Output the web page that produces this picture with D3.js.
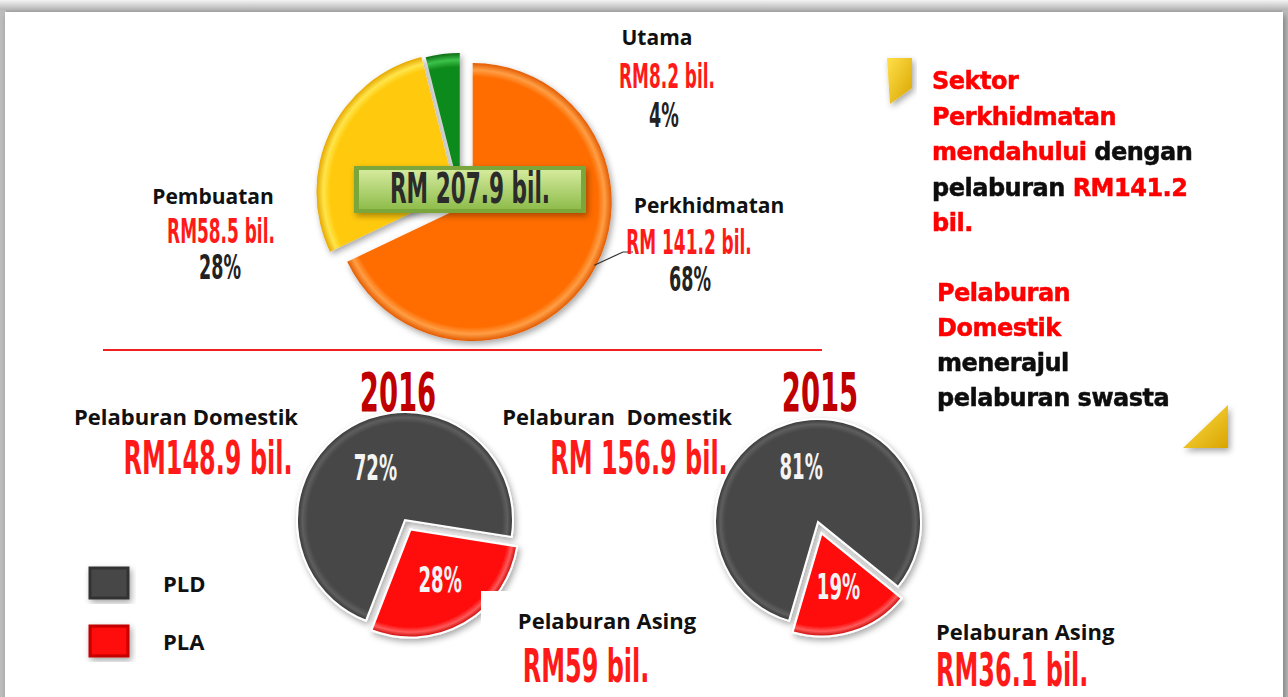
<!DOCTYPE html>
<html>
<head>
<meta charset="utf-8">
<script src="https://cdn.jsdelivr.net/npm/d3@7"></script>
<style>
  body { margin: 0; background: #fff; }
  svg { display: block; }
</style>
</head>
<body>
<div class="chart"></div>
<script>
var svgWidth = 1288;
var svgHeight = 697;

// Sektor (RM bil.)
var sectors = ["Perkhidmatan", "Pembuatan", "Utama"];
var sectorValues = [141.2, 58.5, 8.2];
var sectorPct = ["68%", "28%", "4%"];
var sectorAmt = ["RM 141.2 bil.", "RM58.5 bil.", "RM8.2 bil."];
var totalLabel = "RM 207.9 bil.";

// Pelaburan domestik / asing
var years = ["2016", "2015"];
var sources = ["PLA", "PLD"];
var values2016 = [59, 148.9];
var values2015 = [36.1, 156.9];
var pct2016 = ["28%", "72%"];
var pct2015 = ["19%", "81%"];
var domAmt = ["RM148.9 bil.", "RM 156.9 bil."];
var forAmt = ["RM59 bil.", "RM36.1 bil."];

var svg = d3.select(".chart")
    .append("svg")
    .attr("width", svgWidth)
    .attr("height", svgHeight);

var defs = svg.append("defs");

// soft shadow
var sh = defs.append("filter").attr("id", "shadow")
    .attr("x", "-20%").attr("y", "-20%").attr("width", "140%").attr("height", "140%");
sh.append("feDropShadow").attr("dx", 2).attr("dy", 3).attr("stdDeviation", 3)
    .attr("flood-color", "#000").attr("flood-opacity", 0.35);

var blur = defs.append("filter").attr("id", "soft");
blur.append("feGaussianBlur").attr("stdDeviation", 0.5);

// radial bevel gradient for a slice
function bevel(id, r, inner, rim, edge) {
  var g = defs.append("radialGradient").attr("id", id)
      .attr("gradientUnits", "userSpaceOnUse")
      .attr("cx", 0).attr("cy", 0).attr("r", r);
  g.append("stop").attr("offset", "0%").attr("stop-color", inner);
  g.append("stop").attr("offset", "90%").attr("stop-color", inner);
  g.append("stop").attr("offset", "95%").attr("stop-color", rim);
  g.append("stop").attr("offset", "100%").attr("stop-color", edge);
}

// card frame
var frameGrad = defs.append("linearGradient").attr("id", "frameTop")
    .attr("x1", 0).attr("y1", 0).attr("x2", 0).attr("y2", 1);
frameGrad.append("stop").attr("offset", "0%").attr("stop-color", "#f4f4f4");
frameGrad.append("stop").attr("offset", "100%").attr("stop-color", "#9a9a9a");
svg.append("rect").attr("x", 0).attr("y", 0).attr("width", svgWidth).attr("height", 14)
    .attr("fill", "url(#frameTop)");
svg.append("rect").attr("x", 0).attr("y", 10).attr("width", 6).attr("height", svgHeight)
    .attr("fill", "#bdbdbd");
svg.append("rect").attr("x", 1282).attr("y", 10).attr("width", 6).attr("height", svgHeight)
    .attr("fill", "#bdbdbd");
svg.append("rect").attr("x", 5).attr("y", 12).attr("width", 1278).attr("height", svgHeight)
    .attr("fill", "#fff").attr("filter", "url(#shadow)");

var condensed = "'DejaVu Sans Condensed', 'Liberation Sans Narrow', sans-serif";
var calibri = "'Open Sans', Lato, sans-serif";
var arialB = "'DejaVu Sans', 'Liberation Sans', sans-serif";

// condensed bold label, squeezed horizontally
function cond(x, y, size, color, txt, anchor) {
  return svg.append("text")
      .attr("transform", `translate(${x},${y}) scale(0.57,1)`)
      .attr("text-anchor", anchor || "middle")
      .attr("font-family", condensed)
      .attr("font-weight", "bold")
      .attr("font-size", size * 1.14)
      .attr("fill", color)
      .text(txt);
}

function label(x, y, size, txt, anchor) {
  return svg.append("text")
      .attr("x", x).attr("y", y)
      .attr("text-anchor", anchor || "middle")
      .attr("font-family", calibri)
      .attr("font-weight", "bold")
      .attr("font-size", size)
      .attr("fill", "#111")
      .text(txt);
}

// ---------- top pie: sectors ----------
var topR = 139;
var topCenter = [460, 194];
var topColors = [
  ["#ff6c00", "#ff9e45", "#e35a00"],
  ["#ffc90a", "#ffe54a", "#e6a800"],
  ["#118a1c", "#3cc24a", "#0b6b13"]
];
var topExplode = [15, 5, 2];

topColors.forEach(function(c, i) { bevel("top" + i, topR, c[0], c[1], c[2]); });

var topPie = d3.pie().sort(null)(sectorValues);
var topArc = d3.arc().innerRadius(0).outerRadius(topR);

var topG = svg.append("g").attr("filter", "url(#shadow)");
topG.selectAll("g.slice")
    .data(topPie)
    .enter()
    .append("g")
    .attr("class", "slice")
    .attr("transform", function(d, i) {
      var a = (d.startAngle + d.endAngle) / 2;
      var dx = Math.sin(a) * topExplode[i], dy = -Math.cos(a) * topExplode[i];
      return `translate(${topCenter[0] + dx}, ${topCenter[1] + dy})`;
    })
    .append("path")
    .attr("d", topArc)
    .attr("fill", (d, i) => `url(#top${i})`);

// leader line to Perkhidmatan
var orangeMid = (topPie[0].startAngle + topPie[0].endAngle) / 2;
var leadA = 2.05;
var ox = topCenter[0] + Math.sin(orangeMid) * topExplode[0];
var oy = topCenter[1] - Math.cos(orangeMid) * topExplode[0];
svg.append("polyline")
    .attr("points", [
      [ox + Math.sin(leadA) * (topR - 2), oy - Math.cos(leadA) * (topR - 2)],
      [623, 252], [633, 252]
    ].map(p => p.join(",")).join(" "))
    .attr("fill", "none").attr("stroke", "#333").attr("stroke-width", 1.2);

// total box
var boxGrad = defs.append("linearGradient").attr("id", "boxGrad")
    .attr("x1", 0).attr("y1", 0).attr("x2", 0).attr("y2", 1);
boxGrad.append("stop").attr("offset", "0%").attr("stop-color", "#d4ea9c");
boxGrad.append("stop").attr("offset", "100%").attr("stop-color", "#8fbd4c");
svg.append("rect").attr("x", 354).attr("y", 166).attr("width", 232).attr("height", 47)
    .attr("fill", "#7aa63a").attr("filter", "url(#shadow)");
svg.append("rect").attr("x", 359).attr("y", 170).attr("width", 222).attr("height", 39)
    .attr("fill", "url(#boxGrad)");
cond(470, 203, 37, "#2b2b2b", totalLabel);

// sector labels
var sectorLabelPos = [[709, 213], [213, 204], [657, 45]];
sectors.forEach(function(s, i) {
  var p = sectorLabelPos[i];
  label(p[0], p[1], 21, s);
});
cond(689, 254, 29, "#ff1a1a", sectorAmt[0]);
cond(221, 243, 29, "#ff1a1a", sectorAmt[1]);
cond(667, 88, 29, "#ff1a1a", sectorAmt[2]);
cond(690, 291, 30, "#222", sectorPct[0]);
cond(220, 279, 30, "#222", sectorPct[1]);
cond(664, 127, 30, "#222", sectorPct[2]);

// divider
svg.append("line").attr("x1", 103).attr("x2", 822).attr("y1", 350).attr("y2", 350)
    .attr("stroke", "#f02020").attr("stroke-width", 2);

// ---------- right text ----------
var note1 = [
  [["Sektor", "#ff0000"]],
  [["Perkhidmatan", "#ff0000"]],
  [["mendahului ", "#ff0000"], ["dengan", "#111"]],
  [["pelaburan ", "#111"], ["RM141.2", "#ff0000"]],
  [["bil.", "#ff0000"]]
];
var note2 = [
  [["Pelaburan", "#ff0000"]],
  [["Domestik", "#ff0000"]],
  [["menerajul", "#111"]],
  [["pelaburan swasta", "#111"]]
];
function note(lines, x, y0, step) {
  lines.forEach(function(parts, i) {
    var t = svg.append("text").attr("x", x).attr("y", y0 + i * step)
        .attr("font-family", arialB).attr("font-weight", "bold")
        .attr("font-size", 24).attr("letter-spacing", -0.5)
        .attr("filter", "url(#soft)");
    parts.forEach(function(p) {
      t.append("tspan").attr("fill", p[1]).attr("stroke", p[1]).attr("stroke-width", 0.5).text(p[0]);
    });
  });
}
note(note1, 932, 89, 35.5);
note(note2, 937, 301, 35);

// yellow corner decorations
var yel = defs.append("linearGradient").attr("id", "yel")
    .attr("x1", 0).attr("y1", 0).attr("x2", 1).attr("y2", 1);
yel.append("stop").attr("offset", "0%").attr("stop-color", "#ffe04a");
yel.append("stop").attr("offset", "100%").attr("stop-color", "#d9a400");
svg.append("path").attr("d", "M887,58 L912,58 L912,88 L890,104 Z")
    .attr("fill", "url(#yel)").attr("filter", "url(#shadow)");
svg.append("path").attr("d", "M1228,405 L1228,448 L1183,448 Z")
    .attr("fill", "url(#yel)").attr("filter", "url(#shadow)");

// ---------- bottom pies ----------
var pieSpecs = [
  { year: years[0], vals: values2016, pct: pct2016, c: [405, 520], r: 108, start: 99, explode: 11, yearX: 398 },
  { year: years[1], vals: values2015, pct: pct2015, c: [818, 522], r: 103, start: 129, explode: 12, yearX: 820 }
];
var srcColors = [["#ff0a0a", "#ff5a5a", "#c40000"], ["#474747", "#5e5e5e", "#333"]];

pieSpecs.forEach(function(spec, k) {
  srcColors.forEach(function(c, i) { bevel(`b${k}_${i}`, spec.r, c[0], c[1], c[2]); });
  var s0 = spec.start * Math.PI / 180;
  var arcs = d3.pie().sort(null).startAngle(s0).endAngle(s0 + 2 * Math.PI)(spec.vals);
  var arc = d3.arc().innerRadius(0).outerRadius(spec.r);
  var g = svg.append("g").attr("filter", "url(#shadow)");
  var slices = g.selectAll("g")
      .data(arcs)
      .enter()
      .append("g")
      .attr("transform", function(d, i) {
        var a = (d.startAngle + d.endAngle) / 2;
        var e = i === 0 ? spec.explode : 0;
        return `translate(${spec.c[0] + Math.sin(a) * e}, ${spec.c[1] - Math.cos(a) * e})`;
      });
  slices.append("path")
      .attr("d", arc)
      .attr("fill", (d, i) => `url(#b${k}_${i})`)
      .attr("stroke", "#fff").attr("stroke-width", 2);
  // percent labels
  var lab = d3.arc().innerRadius(spec.r * 0.55).outerRadius(spec.r * 0.55);
  arcs.forEach(function(d, i) {
    var p = lab.centroid(d);
    var a = (d.startAngle + d.endAngle) / 2;
    var e = i === 0 ? spec.explode : 0;
    cond(spec.c[0] + Math.sin(a) * e + p[0], spec.c[1] - Math.cos(a) * e + p[1] + 11, 31, "#f4f4f4", spec.pct[i]);
  });
  cond(spec.yearX, 411, 47, "#c00000", spec.year);
});

// white label box overlapping the 2016 slice
svg.append("rect").attr("x", 481).attr("y", 591).attr("width", 40).attr("height", 40).attr("fill", "#fff");

// amount labels
label(186, 425, 22, "Pelaburan Domestik");
cond(208, 474, 41, "#ff1a1a", domAmt[0]);
label(617, 425, 22, "Pelaburan\u00a0\u00a0Domestik");
cond(639, 474, 41, "#ff1a1a", domAmt[1]);
label(607, 629, 22, "Pelaburan Asing");
cond(586, 682, 41, "#ff1a1a", forAmt[0]);
label(936, 640, 22, "Pelaburan Asing", "start");
cond(936, 686, 41, "#ff1a1a", forAmt[1], "start");

// legend
var legY = [582, 640];
sources.slice().reverse().forEach(function(s, i) {
  var c = srcColors[1 - i];
  svg.append("rect").attr("x", 90).attr("y", legY[i] - 14).attr("width", 38).attr("height", 30)
      .attr("fill", c[0]).attr("stroke", c[2]).attr("stroke-width", 3)
      .attr("filter", "url(#shadow)");
  label(163, legY[i] + 10, 22, s, "start");
});
</script>
</body>
</html>
